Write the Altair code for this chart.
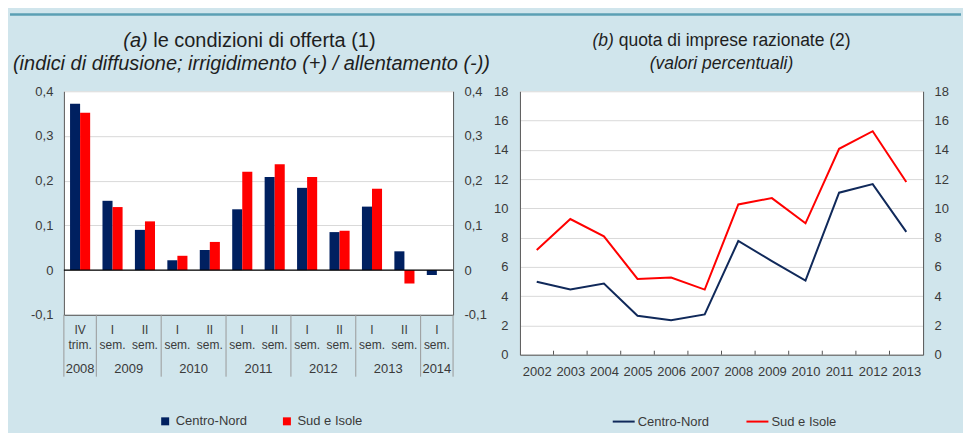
import altair as alt
import pandas as pd

# ---------------- data ----------------
series = ["Centro-Nord", "Sud e Isole"]

# panel (a): diffusion indices
row1_labels = ["IV", "I", "II", "I", "II", "I", "II", "I", "II", "I", "II", "I"]
row2_labels = ["trim.", "sem.", "sem.", "sem.", "sem.", "sem.", "sem.", "sem.", "sem.", "sem.", "sem.", "sem."]
year_labels_a = ["2008", "2009", "2010", "2011", "2012", "2013", "2014"]
year_groups_a = [1, 2, 2, 2, 2, 2, 1]  # number of periods per year
cn_offerta = [0.372, 0.155, 0.090, 0.022, 0.045, 0.136, 0.208, 0.184, 0.085, 0.142, 0.042, -0.011]
sud_offerta = [0.352, 0.141, 0.109, 0.032, 0.063, 0.220, 0.237, 0.208, 0.088, 0.182, -0.030, 0.0]

# panel (b): share of rationed firms (%)
anni_b = [2002, 2003, 2004, 2005, 2006, 2007, 2008, 2009, 2010, 2011, 2012, 2013]
cn_razionate = [4.98, 4.45, 4.86, 2.66, 2.36, 2.75, 7.77, 6.40, 5.07, 11.07, 11.66, 8.39]
sud_razionate = [7.16, 9.27, 8.09, 5.18, 5.27, 4.45, 10.27, 10.70, 8.98, 14.07, 15.27, 11.80]

title_a = ["(a)", "le condizioni di offerta (1)", "(indici di diffusione; irrigidimento (+) / allentamento (-))"]
title_b = ["(b)", "quota di imprese razionate (2)", "(valori percentuali)"]

# ---------------- style ----------------
BG = "#d0e5ec"
TEAL = "#5b9fb4"
NAVY = "#002060"
NAVY_LINE = "#10295a"
RED = "#ff0000"
TXT = "#3a3a3a"
TITLE_C = "#1e1e1e"
FONT = "Liberation Sans"
FS = 13
TFS_A = 20
TFS_B = 17.5
AXC = "#555555"
GRID = "#d9d9d9"

W1, H1 = 390, 224
W2, H2 = 404, 264
GAP = 67

n_a = len(cn_offerta)

# ---------------- panel (a) ----------------
rows = []
for i, (a, b) in enumerate(zip(cn_offerta, sud_offerta)):
    rows.append(dict(serie=series[0], v=a, x0=i + 0.19, x1=i + 0.5))
    rows.append(dict(serie=series[1], v=b, x0=i + 0.5, x1=i + 0.81))
df_bars = pd.DataFrame(rows)

df_lab = pd.DataFrame({"x": [i + 0.5 for i in range(n_a)], "r1": row1_labels, "r2": row2_labels})
bounds = [0]
for g in year_groups_a:
    bounds.append(bounds[-1] + g)
df_sep = pd.DataFrame({"x": bounds})
df_year = pd.DataFrame({
    "x": [(bounds[k] + bounds[k + 1]) / 2 for k in range(len(year_labels_a))],
    "t": year_labels_a,
})

xs_a = alt.Scale(domain=[0, n_a], nice=False, zero=False)
ys_a = alt.Scale(domain=[-0.1, 0.4], nice=False)
lab_expr_a = "datum.value == 0 ? '0' : (datum.value < 0 ? '-' : '') + '0,' + round(abs(datum.value) * 10)"
yvals_a = [-0.1, 0, 0.1, 0.2, 0.3, 0.4]

xaxis_a = alt.Axis(labels=False, ticks=False, grid=False, domain=True, domainColor=AXC, title=None)
yaxis_a = alt.Axis(values=yvals_a, labelExpr=lab_expr_a, grid=True, gridColor=GRID, ticks=False,
                   domainColor=AXC, labelPadding=11, title=None, orient="left")


def xa(field):
    return alt.X(field, scale=xs_a, axis=xaxis_a)


bars = alt.Chart(df_bars).mark_bar(strokeWidth=0).encode(
    x=xa("x0:Q"),
    x2="x1:Q",
    y=alt.Y("v:Q", scale=ys_a, axis=yaxis_a),
    y2=alt.Y2(datum=0),
    color=alt.Color("serie:N", scale=alt.Scale(domain=series, range=[NAVY, RED]),
                    legend=alt.Legend(title=None, orient="none", legendX=95, legendY=324,
                                      direction="horizontal", symbolType="square", symbolSize=64,
                                      labelFontSize=FS, labelFont=FONT, labelColor=TXT,
                                      columnPadding=33, labelOffset=4, symbolStrokeWidth=0)),
)

zero_a = alt.Chart(pd.DataFrame({"z": [0]})).mark_rule(color="#000000", strokeWidth=1.2).encode(
    y=alt.Y("z:Q", scale=ys_a, axis=yaxis_a), x=alt.value(0), x2=alt.value(W1)
)

sep_a = alt.Chart(df_sep).mark_rule(color="#9a9a9a", strokeWidth=1).encode(
    x=xa("x:Q"), y=alt.value(H1), y2=alt.value(H1 + 62)
)

r1_a = alt.Chart(df_lab).mark_text(font=FONT, fontSize=12, color=TXT, baseline="middle").encode(
    x=xa("x:Q"), y=alt.value(239.5), text="r1:N"
)
r2_a = alt.Chart(df_lab).mark_text(font=FONT, fontSize=12, color=TXT, baseline="middle").encode(
    x=xa("x:Q"), y=alt.value(254.5), text="r2:N"
)
yr_a = alt.Chart(df_year).mark_text(font=FONT, fontSize=FS, color=TXT, baseline="middle").encode(
    x=xa("x:Q"), y=alt.value(278), text="t:N"
)

df_ta = pd.DataFrame({"t": title_a})
ta1 = alt.Chart(df_ta.iloc[[0]]).mark_text(font=FONT, fontSize=TFS_A, fontStyle="italic", color=TITLE_C,
                                           align="right", baseline="middle").encode(
    text="t:N", x=alt.value(84), y=alt.value(-50))
ta2 = alt.Chart(df_ta.iloc[[1]]).mark_text(font=FONT, fontSize=TFS_A, color=TITLE_C,
                                           align="left", baseline="middle").encode(
    text="t:N", x=alt.value(89.5), y=alt.value(-50))
ta3 = alt.Chart(df_ta.iloc[[2]]).mark_text(font=FONT, fontSize=TFS_A, fontStyle="italic", color=TITLE_C,
                                           align="center", baseline="middle").encode(
    text="t:N", x=alt.value(188), y=alt.value(-27))

# teal header line spanning the full figure width
teal_a = alt.Chart(pd.DataFrame({"k": [0]})).mark_rule(color=TEAL, strokeWidth=2.5).encode(
    x=alt.value(-54), x2=alt.value(899), y=alt.value(-77)
)

main_a = alt.layer(bars, zero_a, sep_a, r1_a, r2_a, yr_a, ta1, ta2, ta3, teal_a)

right_axis_a = alt.Chart(pd.DataFrame({"v": yvals_a})).mark_point(opacity=0).encode(
    y=alt.Y("v:Q", scale=ys_a, axis=alt.Axis(values=yvals_a, labelExpr=lab_expr_a, grid=False,
                                              ticks=False, domainColor=AXC, labelPadding=11,
                                              title=None, orient="right")),
)

panel_a = alt.layer(main_a, right_axis_a).resolve_scale(y="independent").properties(width=W1, height=H1)

# ---------------- panel (b) ----------------
df_lines = pd.DataFrame({
    "anno": anni_b * 2,
    "v": cn_razionate + sud_razionate,
    "serie": [series[0]] * len(anni_b) + [series[1]] * len(anni_b),
})
xs_b = alt.Scale(domain=[anni_b[0] - 0.5, anni_b[-1] + 0.5], nice=False, zero=False)
ys_b = alt.Scale(domain=[0, 18], nice=False)
yvals_b = list(range(0, 19, 2))

xaxis_b = alt.Axis(values=anni_b, format="d", ticks=False, grid=False, labelPadding=11,
                   domainColor=AXC, title=None, labelOverlap=False, labelFlush=False)

lines = alt.Chart(df_lines).mark_line(strokeWidth=2).encode(
    x=alt.X("anno:Q", scale=xs_b, axis=xaxis_b),
    y=alt.Y("v:Q", scale=ys_b, axis=alt.Axis(values=yvals_b, grid=True, gridColor=GRID, ticks=False,
                                              domainColor=AXC, labelPadding=12, title=None,
                                              orient="left")),
    color=alt.Color("serie:N", scale=alt.Scale(domain=series, range=[NAVY_LINE, RED]),
                    legend=alt.Legend(title=None, orient="none", legendX=92, legendY=319,
                                      direction="horizontal", symbolType="stroke", symbolSize=484,
                                      symbolStrokeWidth=2, labelFontSize=FS, labelFont=FONT,
                                      labelColor=TXT, columnPadding=33, labelOffset=2)),
)

df_ticks_b = pd.DataFrame({"x": [a + 0.5 for a in anni_b[:-1]]})
ticks_b = alt.Chart(df_ticks_b).mark_rule(color=AXC, strokeWidth=1).encode(
    x=alt.X("x:Q", scale=xs_b, axis=xaxis_b), y=alt.value(H2), y2=alt.value(H2 - 4)
)

df_tb = pd.DataFrame({"t": title_b})
tb1 = alt.Chart(df_tb.iloc[[0]]).mark_text(font=FONT, fontSize=TFS_B, fontStyle="italic", color=TITLE_C,
                                           align="right", baseline="middle").encode(
    text="t:N", x=alt.value(94), y=alt.value(-50))
tb2 = alt.Chart(df_tb.iloc[[1]]).mark_text(font=FONT, fontSize=TFS_B, color=TITLE_C,
                                           align="left", baseline="middle").encode(
    text="t:N", x=alt.value(99), y=alt.value(-50))
tb3 = alt.Chart(df_tb.iloc[[2]]).mark_text(font=FONT, fontSize=TFS_B, fontStyle="italic", color=TITLE_C,
                                           align="center", baseline="middle").encode(
    text="t:N", x=alt.value(202), y=alt.value(-27))

main_b = alt.layer(lines, ticks_b, tb1, tb2, tb3)

right_axis_b = alt.Chart(pd.DataFrame({"v": yvals_b})).mark_point(opacity=0).encode(
    y=alt.Y("v:Q", scale=ys_b, axis=alt.Axis(values=yvals_b, grid=False, ticks=False, domainColor=AXC,
                                              labelPadding=11, title=None, orient="right")),
)

panel_b = alt.layer(main_b, right_axis_b).resolve_scale(y="independent").properties(width=W2, height=H2)

chart = alt.hconcat(panel_a, panel_b, spacing=GAP, bounds="flush").resolve_scale(
    color="independent"
).properties(
    background=BG,
    padding={"left": 0, "top": 4, "right": 0, "bottom": 4},
).configure_view(fill="white", strokeWidth=0).configure_axis(
    labelFont=FONT, labelFontSize=FS, labelColor=TXT
).configure_text(font=FONT)

chart.save("out.html", embed_options={"renderer": "svg", "actions": False})
